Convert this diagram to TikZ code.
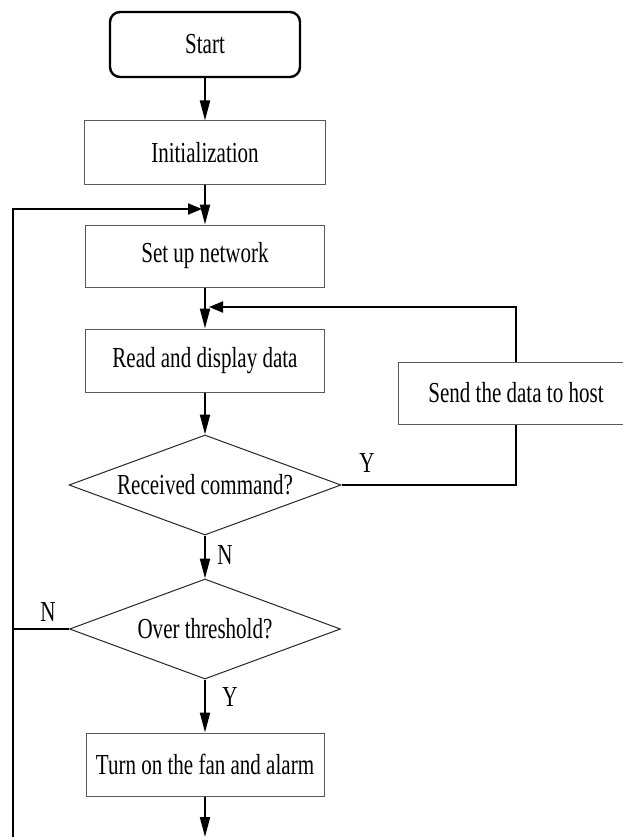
\documentclass[tikz,border=0pt]{standalone}
\usepackage{fontspec}
\setmainfont{Liberation Serif}[FakeStretch=0.725]
\usetikzlibrary{arrows.meta,shapes.geometric}
\tikzset{
  txt/.style={font=\fontsize{29}{34}\selectfont, inner sep=0pt},
  box/.style={txt, draw=black!65, line width=1pt, minimum height=63pt},
  dec/.style={txt, draw=black!85, line width=1pt, shape=diamond, aspect=2.72},
  flow/.style={line width=2pt, black},
  arr/.style={flow, -{Triangle[length=20pt,width=10pt]}},
  harr/.style={flow, -{Triangle[length=14pt,width=11pt]}},
}
\begin{document}
\begin{tikzpicture}[x=1pt,y=-1pt]
\useasboundingbox (0,0) rectangle (623,837);
% nodes
\node[txt, draw=black, line width=2.4pt, rounded corners=10pt, minimum width=190pt, minimum height=65pt] (start) at (205,44.5) {Start};
\node[box, minimum width=241pt] (init) at (205,152.5) {Initialization};
\node[box, minimum width=239pt, minimum height=62pt] (setup) at (205,256) {Set up network};
\node[box, minimum width=239pt] (read) at (205,360.5) {Read and display data};
\node[box, minimum width=236pt, minimum height=62pt] (send) at (516,393) {Send the data to host};
\node[dec, minimum width=272pt, minimum height=100pt] (dec1) at (205,485) {Received command?};
\node[dec, minimum width=271pt, minimum height=100pt] (dec2) at (205,629) {Over threshold?};
\node[box, minimum width=238pt] (turn) at (205,764.5) {Turn on the fan and alarm};
% labels
\node[txt] (ly1) at (367,463) {Y};
\node[txt] (ln1) at (225,555) {N};
\node[txt] (ln2) at (48,612) {N};
\node[txt] (ly2) at (230,697) {Y};
% coordinates
\coordinate (j1) at (205,209);
\coordinate (j2) at (205,307);
\coordinate (bot) at (205,837);
\coordinate (lc) at (13,837.5);
% connectors
\draw[arr] (start.south) -- (init.north);
\draw[arr] (init.south) -- (setup.north);
\draw[arr] (setup.south) -- (read.north);
\draw[arr] (read.south) -- (dec1.north);
\draw[arr] (dec1.south) -- (dec2.north);
\draw[arr] (dec2.south) -- (turn.north);
\draw[arr] (turn.south) -- (bot);
\draw[flow] (dec1.east) -| (send.south);
\draw[harr, shorten >=4pt] (send.north) |- (j2);
\draw[flow] (dec2.west) -- (dec2.west -| lc);
\draw[harr, shorten >=3pt] (bot |- lc) -- (lc) |- (j1);
\end{tikzpicture}
\end{document}
